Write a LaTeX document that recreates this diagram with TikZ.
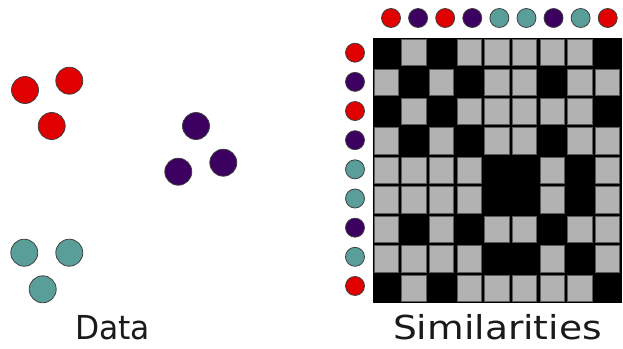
\documentclass[tikz,border=0pt]{standalone}
\usepackage{fontspec}
\setmainfont{DejaVu Sans}
\definecolor{cr}{HTML}{E00000}
\definecolor{cp}{HTML}{3C0060}
\definecolor{ct}{HTML}{5A9E9A}
\definecolor{cellgray}{HTML}{B2B2B2}
\definecolor{celledge}{HTML}{5A5A5A}
\definecolor{txt}{HTML}{1A1A1A}
\begin{document}
\begin{tikzpicture}[x=1pt,y=-1pt,
  dot/.style={circle,draw=black!75,line width=0.8pt,minimum size=19pt,inner sep=0pt},
  bigdot/.style={dot,minimum size=27pt},
  graycell/.style={fill=cellgray,draw=celledge,line width=0.9pt},
  label/.style={anchor=base,text=txt,font=\fontsize{33}{35}\selectfont,inner sep=0pt,text depth=0pt}]
\useasboundingbox (0,0) rectangle (623,348);
% data points
\node[bigdot,fill=cr] (r1) at (25,90) {};
\node[bigdot,fill=cr] (r2) at (69.3,80.7) {};
\node[bigdot,fill=cr] (r3) at (51.7,126) {};
\node[bigdot,fill=cp] (p1) at (196,126) {};
\node[bigdot,fill=cp] (p2) at (223.3,162.7) {};
\node[bigdot,fill=cp] (p3) at (178.3,171.7) {};
\node[bigdot,fill=ct] (t1) at (24.3,252.7) {};
\node[bigdot,fill=ct] (t2) at (69.3,252.7) {};
\node[bigdot,fill=ct] (t3) at (42.7,289.3) {};
% matrix
\fill[black] (372.5,38) rectangle (621.5,303);
\foreach \a [count=\i] in {1,2,1,2,3,3,2,3,1} {
  \foreach \b [count=\j] in {1,2,1,2,3,3,2,3,1} {
    \ifnum\a=\b\relax\else
      \draw[graycell] ({372.5+27.667*(\j-1)+1.6},{38+29.444*(\i-1)+1.6})
        rectangle ({372.5+27.667*\j-1.6},{38+29.444*\i-1.6});
    \fi
  }
}
% header dots
\foreach \c [count=\i] in {cr,cp,cr,cp,ct,ct,cp,ct,cr} {
  \node[dot,fill=\c] (top\i) at ({391+27.09*(\i-1)},18) {};
  \node[dot,fill=\c] (left\i) at (355,{52.7+29.16*(\i-1)}) {};
}
% labels
\node[label] (data) at (112.5,339.5) {\scalebox{0.95}[1]{Data}};
\node[label] (sim) at (497.5,339.5) {\scalebox{1.14}[1]{Similarities}};
\end{tikzpicture}
\end{document}
